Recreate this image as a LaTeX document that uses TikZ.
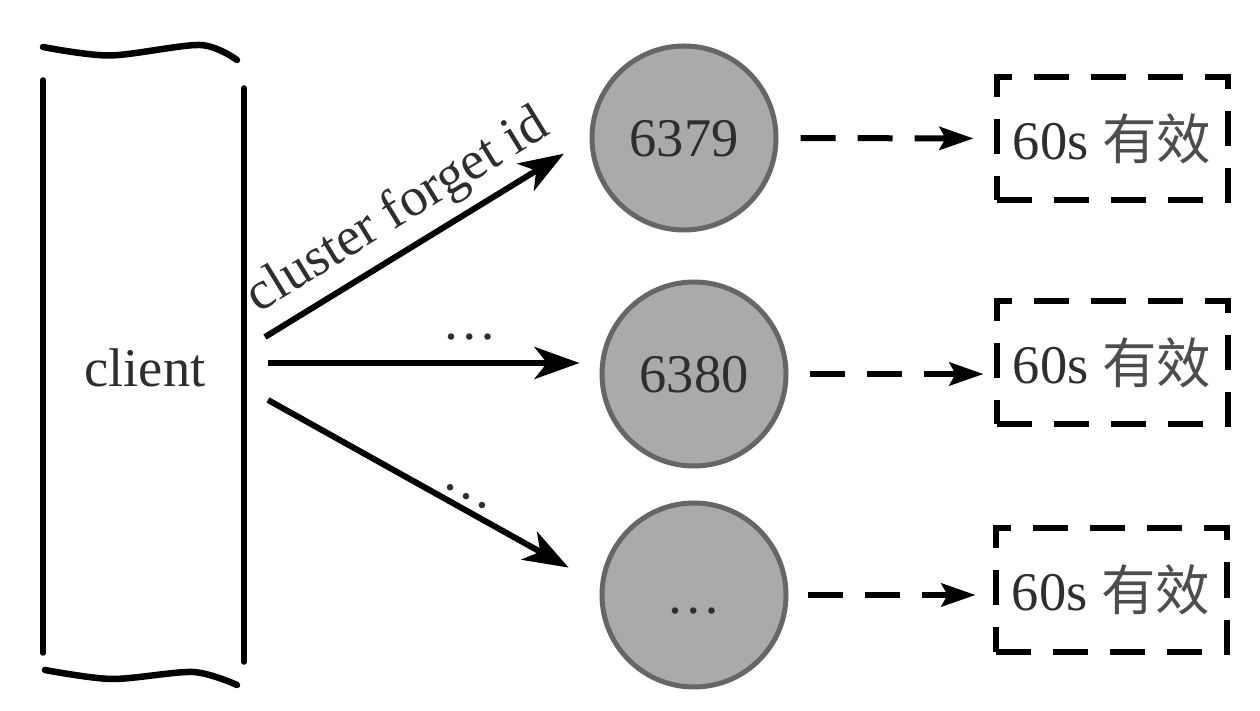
\documentclass[tikz,border=0pt]{standalone}
\usepackage{fontspec}
\setmainfont{Liberation Serif}
\newfontfamily\cjk{Noto Sans CJK SC}
\usetikzlibrary{arrows.meta}
\definecolor{nodefill}{HTML}{AAAAAA}
\definecolor{nodeline}{HTML}{666666}
\definecolor{txt}{HTML}{2E2E2E}
\begin{document}
\begin{tikzpicture}[
  every node/.style={font=\fontsize{31}{36}\selectfont, text=txt},
  port/.style={circle, draw=nodeline, fill=nodefill, line width=0.1cm,
    minimum size=3.68cm, inner sep=0pt, text height=0.74cm, text depth=0pt},
  valid/.style={draw, dash pattern=on 0.7cm off 0.44cm, line width=0.12cm,
    minimum width=4.62cm, minimum height=2.46cm, inner sep=0pt},
  req/.style={line width=0.12cm, -{Stealth[length=0.9cm,width=0.64cm,inset=0.25cm]}},
  expire/.style={line width=0.12cm, dash pattern=on 0.7cm off 0.44cm,
    -{Stealth[length=0.68cm,width=0.46cm,inset=0.12cm]}}
]
  \useasboundingbox (0,0) rectangle (25.2,14.2);
  % Client box
  \draw[line width=0.13cm, line cap=round] plot[smooth] coordinates
    {(0.86,13.26) (2.2,13.09) (4.0,13.3) (4.74,13.0)};
  \draw[line width=0.13cm, line cap=round] plot[smooth] coordinates
    {(0.9,0.8) (2.24,0.62) (3.86,0.76) (4.74,0.5)};
  \draw[line width=0.11cm, line cap=round] (0.86,12.6) -- (0.86,1.14);
  \draw[line width=0.11cm, line cap=round] (4.88,12.44) -- (4.88,0.96);
  \node (client) at (2.9,6.84) {client};
  % Nodes
  \node[port] (c6379) at (13.68,11.44) {6379};
  \node[port] (c6380) at (13.88,6.72) {6380};
  \node[port] (cdots) at (13.88,2.3) {\dots};
  % Expiry boxes
  \node[valid] (b1) at (22.24,11.43) {60s {\cjk\color{txt!85} 有效}};
  \node[valid] (b2) at (22.24,6.94) {60s {\cjk\color{txt!85} 有效}};
  \node[valid] (b3) at (22.22,2.4) {60s {\cjk\color{txt!85} 有效}};
  % Requests from client
  \coordinate (s1) at (5.3,7.46);
  \coordinate (s2) at (5.36,6.94);
  \coordinate (s3) at (5.36,6.2);
  \draw[req, shorten >=0.6cm] (s1) -- (c6379.west)
    node[pos=0.47, sloped, above, inner sep=0.18cm] {cluster forget id};
  \draw[req, shorten >=0.4cm] (s2) -- (s2 -| c6380.west)
    node[pos=0.61, above=0.28cm] {\dots};
  \draw[req, shorten >=0.72cm] (s3) -- (cdots.174)
    node[pos=0.58, sloped, above] {\dots};
  % Forget timeout
  \draw[expire, shorten <=0.44cm, shorten >=0.4cm] (c6379.east) -- (b1.west);
  \draw[expire, shorten <=0.42cm, shorten >=0.2cm] (c6380.east) -- (c6380.east -| b2.west);
  \draw[expire, shorten <=0.38cm, shorten >=0.34cm] (cdots.east) -- (cdots.east -| b3.west);
\end{tikzpicture}
\end{document}
